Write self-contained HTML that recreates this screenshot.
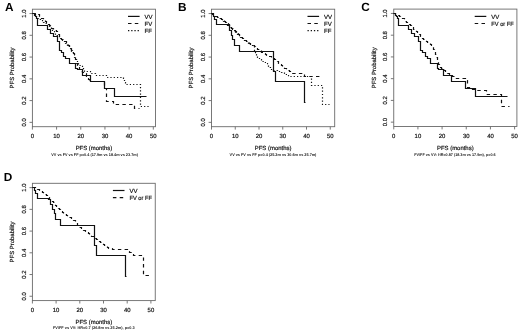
<!DOCTYPE html>
<html><head><meta charset="utf-8"><style>
html,body{margin:0;padding:0;background:#fff;}
svg{display:block;will-change:transform;}
text{text-rendering:geometricPrecision;}
.t{font-family:"Liberation Sans", sans-serif;font-size:5.95px;fill:#111;stroke:#111;stroke-width:0.18px;}
.g{font-family:"Liberation Sans", sans-serif;font-size:6px;fill:#111;stroke:#111;stroke-width:0.18px;}
.f{font-family:"Liberation Sans", sans-serif;font-size:3.9px;fill:#222;font-weight:bold;}
.L{font-family:"Liberation Sans", sans-serif;font-size:11.8px;font-weight:bold;fill:#000;}
</style></head><body>
<svg width="520" height="334" viewBox="0 0 520 334">
<rect width="520" height="334" fill="#fff"/>
<rect x="32.4" y="9.2" width="123.1" height="117.5" fill="none" stroke="#6a6a6a" stroke-width="0.9"/>
<line x1="29.5" y1="122.35" x2="32.4" y2="122.35" stroke="#6a6a6a" stroke-width="0.9"/>
<text x="25.6" y="122.35" transform="rotate(-90 25.6 122.35)" class="t" text-anchor="middle">0.0</text>
<line x1="29.5" y1="100.59" x2="32.4" y2="100.59" stroke="#6a6a6a" stroke-width="0.9"/>
<text x="25.6" y="100.59" transform="rotate(-90 25.6 100.59)" class="t" text-anchor="middle">0.2</text>
<line x1="29.5" y1="78.83" x2="32.4" y2="78.83" stroke="#6a6a6a" stroke-width="0.9"/>
<text x="25.6" y="78.83" transform="rotate(-90 25.6 78.83)" class="t" text-anchor="middle">0.4</text>
<line x1="29.5" y1="57.07" x2="32.4" y2="57.07" stroke="#6a6a6a" stroke-width="0.9"/>
<text x="25.6" y="57.07" transform="rotate(-90 25.6 57.07)" class="t" text-anchor="middle">0.6</text>
<line x1="29.5" y1="35.31" x2="32.4" y2="35.31" stroke="#6a6a6a" stroke-width="0.9"/>
<text x="25.6" y="35.31" transform="rotate(-90 25.6 35.31)" class="t" text-anchor="middle">0.8</text>
<line x1="29.5" y1="13.55" x2="32.4" y2="13.55" stroke="#6a6a6a" stroke-width="0.9"/>
<text x="25.6" y="13.55" transform="rotate(-90 25.6 13.55)" class="t" text-anchor="middle">1.0</text>
<line x1="32.4" y1="126.7" x2="32.4" y2="129.6" stroke="#6a6a6a" stroke-width="0.9"/>
<text x="32.4" y="138" class="t" text-anchor="middle">0</text>
<line x1="56.58" y1="126.7" x2="56.58" y2="129.6" stroke="#6a6a6a" stroke-width="0.9"/>
<text x="56.58" y="138" class="t" text-anchor="middle">10</text>
<line x1="80.76" y1="126.7" x2="80.76" y2="129.6" stroke="#6a6a6a" stroke-width="0.9"/>
<text x="80.76" y="138" class="t" text-anchor="middle">20</text>
<line x1="104.94" y1="126.7" x2="104.94" y2="129.6" stroke="#6a6a6a" stroke-width="0.9"/>
<text x="104.94" y="138" class="t" text-anchor="middle">30</text>
<line x1="129.12" y1="126.7" x2="129.12" y2="129.6" stroke="#6a6a6a" stroke-width="0.9"/>
<text x="129.12" y="138" class="t" text-anchor="middle">40</text>
<line x1="153.3" y1="126.7" x2="153.3" y2="129.6" stroke="#6a6a6a" stroke-width="0.9"/>
<text x="153.3" y="138" class="t" text-anchor="middle">50</text>
<text x="93.95" y="149.8" class="t" text-anchor="middle">PFS (months)</text>
<text x="14.3" y="67.95" transform="rotate(-90 14.3 67.95)" class="t" text-anchor="middle">PFS Probability</text>
<text x="5" y="10.5" class="L">A</text>
<text x="51.3" y="155.8" class="f" textLength="86.6" lengthAdjust="spacingAndGlyphs">VV vs FV vs FF p=0.4 (17.9m vs 18.4m vs 23.7m)</text>
<line x1="128" y1="16.4" x2="139.6" y2="16.4" stroke="#111" stroke-width="1.2" />
<text x="144.6" y="18.5" class="g">VV</text>
<line x1="128" y1="23.5" x2="139.6" y2="23.5" stroke="#111" stroke-width="1.2" stroke-dasharray="3.5 3.3"/>
<text x="144.6" y="25.6" class="g">FV</text>
<line x1="128" y1="30.6" x2="139.6" y2="30.6" stroke="#111" stroke-width="1.2" stroke-dasharray="1.3 1.9"/>
<text x="144.6" y="32.7" class="g">FF</text>
<path d="M32.5 13.5 L33.5 13.5 L33.5 14.5 L34.5 14.5 L35.5 14.5 L35.5 15.5 L35.5 16.5 L36.5 16.5 L36.5 17.5 L37.5 17.5 L37.5 18.5 L38.5 18.5 L38.5 19.5 L39.5 19.5 L40.5 19.5 L40.5 20.5 L41.5 20.5 L42.5 20.5 L42.5 21.5 L43.5 21.5 L43.5 22.5 L44.5 22.5 L45.5 22.5 L45.5 23.5 L46.5 23.5 L47.5 23.5 L47.5 24.5 L48.5 24.5 L48.5 25.5 L49.5 25.5 L49.5 26.5 L50.5 26.5 L50.5 27.5 L51.5 27.5 L51.5 28.5 L52.5 28.5 L52.5 29.5 L52.5 30.5 L53.5 30.5 L53.5 31.5 L54.5 31.5 L54.5 32.5 L55.5 32.5 L55.5 33.5 L55.5 34.5 L56.5 34.5 L56.5 35.5 L57.5 35.5 L58.5 35.5 L58.5 36.5 L59.5 36.5 L59.5 37.5 L60.5 37.5 L60.5 38.5 L61.5 38.5 L61.5 39.5 L62.5 39.5 L62.5 40.5 L63.5 40.5 L63.5 41.5 L64.5 41.5 L64.5 42.5 L65.5 42.5 L65.5 43.5 L66.5 43.5 L66.5 44.5 L67.5 44.5 L67.5 45.5 L68.5 45.5 L68.5 46.5 L69.5 46.5 L69.5 47.5 L69.5 48.5 L70.5 48.5 L70.5 49.5 L70.5 50.5 L71.5 50.5 L71.5 51.5 L72.5 51.5 L72.5 52.5 L73.5 52.5 L73.5 53.5 L73.5 54.5 L74.5 54.5 L74.5 55.5 L74.5 56.5 L74.5 57.5 L75.5 57.5 L75.5 58.5 L75.5 59.5 L76.5 59.5 L76.5 60.5 L76.5 61.5 L77.5 61.5 L77.5 62.5 L77.5 63.5 L78.5 63.5 L78.5 64.5 L79.5 64.5 L79.5 65.5 L80.5 65.5 L81.5 65.5 L82.5 65.5 L82.5 66.5 L82.5 67.5 L83.5 67.5 L83.5 68.5 L83.5 69.5 L84.5 69.5 L84.5 70.5 L84.5 71.5 L90.5 71.5 L90.5 73.5 L95.5 73.5 L95.5 75.5 L106.5 75.5 L106.5 77.5 L107.5 77.5 L108.5 77.5 L109.5 77.5 L110.5 77.5 L111.5 77.5 L112.5 77.5 L113.5 77.5 L114.5 77.5 L115.5 77.5 L116.5 77.5 L117.5 77.5 L118.5 77.5 L119.5 77.5 L120.5 77.5 L121.5 77.5 L122.5 77.5 L123.5 77.5 L123.5 78.5 L124.5 78.5 L124.5 79.5 L124.5 80.5 L124.5 81.5 L124.5 82.5 L125.5 82.5 L125.5 83.5 L125.5 84.5 L140.5 84.5 L140.5 106.5 L150.5 106.5" fill="none" stroke="#111" stroke-width="1.2" stroke-dasharray="1.2 2.1"/>
<path d="M32.5 13.5 L33.5 13.5 L34.5 13.5 L35.5 13.5 L36.5 13.5 L36.5 14.5 L37.5 14.5 L38.5 14.5 L39.5 14.5 L39.5 15.5 L39.5 16.5 L40.5 16.5 L40.5 17.5 L41.5 17.5 L41.5 18.5 L42.5 18.5 L43.5 18.5 L43.5 19.5 L44.5 19.5 L44.5 20.5 L45.5 20.5 L45.5 21.5 L46.5 21.5 L46.5 22.5 L47.5 22.5 L47.5 23.5 L48.5 23.5 L48.5 24.5 L49.5 24.5 L49.5 25.5 L50.5 25.5 L50.5 26.5 L51.5 26.5 L51.5 27.5 L51.5 28.5 L52.5 28.5 L53.5 28.5 L53.5 29.5 L54.5 29.5 L55.5 29.5 L55.5 30.5 L56.5 30.5 L56.5 31.5 L57.5 31.5 L57.5 32.5 L57.5 33.5 L58.5 33.5 L58.5 34.5 L59.5 34.5 L59.5 35.5 L59.5 36.5 L60.5 36.5 L60.5 37.5 L60.5 38.5 L61.5 38.5 L61.5 39.5 L62.5 39.5 L63.5 39.5 L63.5 40.5 L64.5 40.5 L64.5 41.5 L65.5 41.5 L66.5 41.5 L66.5 42.5 L66.5 43.5 L67.5 43.5 L67.5 44.5 L68.5 44.5 L68.5 45.5 L69.5 45.5 L69.5 46.5 L70.5 46.5 L70.5 47.5 L70.5 48.5 L71.5 48.5 L71.5 49.5 L71.5 50.5 L72.5 50.5 L72.5 51.5 L73.5 51.5 L73.5 52.5 L73.5 53.5 L74.5 53.5 L74.5 54.5 L74.5 55.5 L75.5 55.5 L75.5 56.5 L75.5 57.5 L75.5 58.5 L75.5 59.5 L76.5 59.5 L76.5 60.5 L76.5 61.5 L76.5 62.5 L76.5 63.5 L77.5 63.5 L77.5 64.5 L77.5 65.5 L78.5 65.5 L78.5 66.5 L78.5 67.5 L79.5 67.5 L79.5 68.5 L79.5 69.5 L80.5 69.5 L80.5 70.5 L80.5 71.5 L81.5 71.5 L82.5 71.5 L82.5 72.5 L83.5 72.5 L84.5 72.5 L84.5 73.5 L85.5 73.5 L86.5 73.5 L86.5 74.5 L86.5 75.5 L86.5 76.5 L87.5 76.5 L87.5 77.5 L87.5 78.5 L88.5 78.5 L88.5 79.5 L89.5 79.5 L89.5 80.5 L90.5 80.5 L90.5 81.5 L104.5 81.5 L104.5 88.5 L106.5 88.5 L106.5 101.5 L113.5 101.5 L113.5 104.5 L134.5 104.5 L134.5 108.5 L139.5 108.5" fill="none" stroke="#111" stroke-width="1.2" stroke-dasharray="3.4 3.3"/>
<path d="M32.5 13.5 L34.5 13.5 L34.5 15.5 L35.5 15.5 L35.5 16.5 L36.5 16.5 L36.5 18.5 L37.5 18.5 L37.5 25.5 L47.5 25.5 L47.5 29.5 L50.5 29.5 L50.5 33.5 L53.5 33.5 L53.5 36.5 L57.5 36.5 L57.5 41.5 L59.5 41.5 L59.5 50.5 L61.5 50.5 L61.5 52.5 L63.5 52.5 L63.5 56.5 L65.5 56.5 L65.5 58.5 L69.5 58.5 L69.5 63.5 L75.5 63.5 L75.5 68.5 L77.5 68.5 L77.5 69.5 L82.5 69.5 L82.5 75.5 L90.5 75.5 L90.5 81.5 L104.5 81.5 L104.5 88.5 L114.5 88.5 L114.5 96.5 L146.5 96.5" fill="none" stroke="#111" stroke-width="1.2" />
<rect x="211.5" y="9.2" width="123.2" height="117.5" fill="none" stroke="#6a6a6a" stroke-width="0.9"/>
<line x1="208.6" y1="122.35" x2="211.5" y2="122.35" stroke="#6a6a6a" stroke-width="0.9"/>
<text x="204.7" y="122.35" transform="rotate(-90 204.7 122.35)" class="t" text-anchor="middle">0.0</text>
<line x1="208.6" y1="100.59" x2="211.5" y2="100.59" stroke="#6a6a6a" stroke-width="0.9"/>
<text x="204.7" y="100.59" transform="rotate(-90 204.7 100.59)" class="t" text-anchor="middle">0.2</text>
<line x1="208.6" y1="78.83" x2="211.5" y2="78.83" stroke="#6a6a6a" stroke-width="0.9"/>
<text x="204.7" y="78.83" transform="rotate(-90 204.7 78.83)" class="t" text-anchor="middle">0.4</text>
<line x1="208.6" y1="57.07" x2="211.5" y2="57.07" stroke="#6a6a6a" stroke-width="0.9"/>
<text x="204.7" y="57.07" transform="rotate(-90 204.7 57.07)" class="t" text-anchor="middle">0.6</text>
<line x1="208.6" y1="35.31" x2="211.5" y2="35.31" stroke="#6a6a6a" stroke-width="0.9"/>
<text x="204.7" y="35.31" transform="rotate(-90 204.7 35.31)" class="t" text-anchor="middle">0.8</text>
<line x1="208.6" y1="13.55" x2="211.5" y2="13.55" stroke="#6a6a6a" stroke-width="0.9"/>
<text x="204.7" y="13.55" transform="rotate(-90 204.7 13.55)" class="t" text-anchor="middle">1.0</text>
<line x1="211.5" y1="126.7" x2="211.5" y2="129.6" stroke="#6a6a6a" stroke-width="0.9"/>
<text x="211.5" y="138" class="t" text-anchor="middle">0</text>
<line x1="235.25" y1="126.7" x2="235.25" y2="129.6" stroke="#6a6a6a" stroke-width="0.9"/>
<text x="235.25" y="138" class="t" text-anchor="middle">10</text>
<line x1="259" y1="126.7" x2="259" y2="129.6" stroke="#6a6a6a" stroke-width="0.9"/>
<text x="259" y="138" class="t" text-anchor="middle">20</text>
<line x1="282.75" y1="126.7" x2="282.75" y2="129.6" stroke="#6a6a6a" stroke-width="0.9"/>
<text x="282.75" y="138" class="t" text-anchor="middle">30</text>
<line x1="306.5" y1="126.7" x2="306.5" y2="129.6" stroke="#6a6a6a" stroke-width="0.9"/>
<text x="306.5" y="138" class="t" text-anchor="middle">40</text>
<line x1="330.25" y1="126.7" x2="330.25" y2="129.6" stroke="#6a6a6a" stroke-width="0.9"/>
<text x="330.25" y="138" class="t" text-anchor="middle">50</text>
<text x="273.1" y="149.8" class="t" text-anchor="middle">PFS (months)</text>
<text x="193.4" y="67.95" transform="rotate(-90 193.4 67.95)" class="t" text-anchor="middle">PFS Probability</text>
<text x="178" y="10.9" class="L">B</text>
<text x="229.6" y="155.6" class="f" textLength="86.8" lengthAdjust="spacingAndGlyphs">VV vs FV vs FF p=0.4 (25.2m vs 30.6m vs 25.7m)</text>
<line x1="307.5" y1="16.4" x2="319.1" y2="16.4" stroke="#111" stroke-width="1.2" />
<text x="324.1" y="18.5" class="g">VV</text>
<line x1="307.5" y1="23.5" x2="319.1" y2="23.5" stroke="#111" stroke-width="1.2" stroke-dasharray="3.5 3.3"/>
<text x="324.1" y="25.6" class="g">FV</text>
<line x1="307.5" y1="30.6" x2="319.1" y2="30.6" stroke="#111" stroke-width="1.2" stroke-dasharray="1.3 1.9"/>
<text x="324.1" y="32.7" class="g">FF</text>
<path d="M211.5 13.5 L212.5 13.5 L212.5 14.5 L213.5 14.5 L213.5 15.5 L214.5 15.5 L215.5 15.5 L215.5 16.5 L216.5 16.5 L217.5 16.5 L217.5 17.5 L218.5 17.5 L219.5 17.5 L219.5 18.5 L220.5 18.5 L220.5 19.5 L221.5 19.5 L222.5 19.5 L222.5 20.5 L223.5 20.5 L223.5 21.5 L224.5 21.5 L224.5 22.5 L225.5 22.5 L226.5 22.5 L226.5 23.5 L227.5 23.5 L227.5 24.5 L228.5 24.5 L228.5 25.5 L229.5 25.5 L229.5 26.5 L230.5 26.5 L230.5 27.5 L231.5 27.5 L231.5 28.5 L232.5 28.5 L232.5 29.5 L233.5 29.5 L233.5 30.5 L234.5 30.5 L234.5 31.5 L235.5 31.5 L235.5 32.5 L236.5 32.5 L236.5 33.5 L237.5 33.5 L237.5 34.5 L238.5 34.5 L238.5 35.5 L239.5 35.5 L239.5 36.5 L240.5 36.5 L240.5 37.5 L241.5 37.5 L242.5 37.5 L242.5 38.5 L243.5 38.5 L243.5 39.5 L244.5 39.5 L244.5 40.5 L245.5 40.5 L245.5 41.5 L246.5 41.5 L247.5 41.5 L247.5 42.5 L248.5 42.5 L248.5 43.5 L249.5 43.5 L250.5 43.5 L250.5 44.5 L251.5 44.5 L252.5 44.5 L252.5 45.5 L253.5 45.5 L254.5 45.5 L254.5 46.5 L254.5 47.5 L254.5 48.5 L254.5 49.5 L254.5 50.5 L254.5 51.5 L254.5 52.5 L255.5 52.5 L255.5 53.5 L255.5 54.5 L256.5 54.5 L256.5 55.5 L257.5 55.5 L257.5 56.5 L257.5 57.5 L258.5 57.5 L258.5 58.5 L259.5 58.5 L260.5 58.5 L260.5 59.5 L261.5 59.5 L261.5 60.5 L262.5 60.5 L262.5 61.5 L263.5 61.5 L264.5 61.5 L264.5 62.5 L265.5 62.5 L266.5 62.5 L266.5 63.5 L267.5 63.5 L267.5 64.5 L268.5 64.5 L268.5 65.5 L268.5 66.5 L269.5 66.5 L269.5 67.5 L270.5 67.5 L270.5 68.5 L271.5 68.5 L271.5 69.5 L272.5 69.5 L273.5 69.5 L273.5 70.5 L274.5 70.5 L275.5 70.5 L276.5 70.5 L277.5 70.5 L277.5 71.5 L278.5 71.5 L279.5 71.5 L280.5 71.5 L281.5 71.5 L281.5 72.5 L282.5 72.5 L283.5 72.5 L284.5 72.5 L284.5 73.5 L285.5 73.5 L285.5 74.5 L286.5 74.5 L287.5 74.5 L287.5 75.5 L288.5 75.5 L288.5 76.5 L289.5 76.5 L311.5 76.5 L311.5 85.5 L322.5 85.5 L322.5 104.5 L329.5 104.5" fill="none" stroke="#111" stroke-width="1.2" stroke-dasharray="1.2 2.1"/>
<path d="M211.5 13.5 L212.5 13.5 L212.5 14.5 L213.5 14.5 L214.5 14.5 L214.5 15.5 L215.5 15.5 L215.5 16.5 L216.5 16.5 L217.5 16.5 L217.5 17.5 L218.5 17.5 L219.5 17.5 L219.5 18.5 L220.5 18.5 L221.5 18.5 L221.5 19.5 L222.5 19.5 L223.5 19.5 L223.5 20.5 L224.5 20.5 L224.5 21.5 L225.5 21.5 L225.5 22.5 L226.5 22.5 L227.5 22.5 L227.5 23.5 L228.5 23.5 L228.5 24.5 L229.5 24.5 L229.5 25.5 L230.5 25.5 L230.5 26.5 L231.5 26.5 L231.5 27.5 L231.5 28.5 L232.5 28.5 L233.5 28.5 L233.5 29.5 L234.5 29.5 L234.5 30.5 L235.5 30.5 L235.5 31.5 L236.5 31.5 L236.5 32.5 L237.5 32.5 L237.5 33.5 L238.5 33.5 L238.5 34.5 L239.5 34.5 L239.5 35.5 L240.5 35.5 L240.5 36.5 L241.5 36.5 L241.5 37.5 L242.5 37.5 L242.5 38.5 L243.5 38.5 L243.5 39.5 L244.5 39.5 L244.5 40.5 L245.5 40.5 L246.5 40.5 L246.5 41.5 L247.5 41.5 L247.5 42.5 L248.5 42.5 L249.5 42.5 L249.5 43.5 L250.5 43.5 L250.5 44.5 L251.5 44.5 L252.5 44.5 L252.5 45.5 L253.5 45.5 L254.5 45.5 L254.5 46.5 L255.5 46.5 L255.5 47.5 L256.5 47.5 L256.5 48.5 L257.5 48.5 L257.5 49.5 L258.5 49.5 L259.5 49.5 L259.5 50.5 L260.5 50.5 L261.5 50.5 L261.5 51.5 L261.5 52.5 L262.5 52.5 L263.5 52.5 L263.5 53.5 L264.5 53.5 L265.5 53.5 L265.5 54.5 L266.5 54.5 L266.5 55.5 L267.5 55.5 L268.5 55.5 L268.5 56.5 L269.5 56.5 L270.5 56.5 L271.5 56.5 L271.5 57.5 L272.5 57.5 L273.5 57.5 L273.5 58.5 L274.5 58.5 L274.5 59.5 L275.5 59.5 L275.5 60.5 L276.5 60.5 L277.5 60.5 L277.5 61.5 L278.5 61.5 L278.5 62.5 L278.5 63.5 L279.5 63.5 L280.5 63.5 L280.5 64.5 L281.5 64.5 L281.5 65.5 L282.5 65.5 L282.5 66.5 L283.5 66.5 L283.5 67.5 L284.5 67.5 L284.5 68.5 L285.5 68.5 L286.5 68.5 L286.5 69.5 L287.5 69.5 L288.5 69.5 L288.5 70.5 L289.5 70.5 L289.5 71.5 L290.5 71.5 L290.5 72.5 L291.5 72.5 L291.5 73.5 L292.5 73.5 L304.5 73.5 L304.5 76.5 L322.5 76.5" fill="none" stroke="#111" stroke-width="1.2" stroke-dasharray="3.4 3.3"/>
<path d="M211.5 13.5 L213.5 13.5 L213.5 16.5 L214.5 16.5 L214.5 19.5 L216.5 19.5 L216.5 24.5 L227.5 24.5 L227.5 25.5 L229.5 25.5 L229.5 30.5 L231.5 30.5 L231.5 35.5 L232.5 35.5 L232.5 39.5 L234.5 39.5 L234.5 45.5 L239.5 45.5 L239.5 51.5 L273.5 51.5 L273.5 71.5 L275.5 71.5 L275.5 81.5 L304.5 81.5 L304.5 102.5 L305.5 102.5" fill="none" stroke="#111" stroke-width="1.2" />
<rect x="393.75" y="9.1" width="123.15" height="117.4" fill="none" stroke="#6a6a6a" stroke-width="0.9"/>
<line x1="390.85" y1="122.15" x2="393.75" y2="122.15" stroke="#6a6a6a" stroke-width="0.9"/>
<text x="386.95" y="122.15" transform="rotate(-90 386.95 122.15)" class="t" text-anchor="middle">0.0</text>
<line x1="390.85" y1="100.41" x2="393.75" y2="100.41" stroke="#6a6a6a" stroke-width="0.9"/>
<text x="386.95" y="100.41" transform="rotate(-90 386.95 100.41)" class="t" text-anchor="middle">0.2</text>
<line x1="390.85" y1="78.67" x2="393.75" y2="78.67" stroke="#6a6a6a" stroke-width="0.9"/>
<text x="386.95" y="78.67" transform="rotate(-90 386.95 78.67)" class="t" text-anchor="middle">0.4</text>
<line x1="390.85" y1="56.93" x2="393.75" y2="56.93" stroke="#6a6a6a" stroke-width="0.9"/>
<text x="386.95" y="56.93" transform="rotate(-90 386.95 56.93)" class="t" text-anchor="middle">0.6</text>
<line x1="390.85" y1="35.19" x2="393.75" y2="35.19" stroke="#6a6a6a" stroke-width="0.9"/>
<text x="386.95" y="35.19" transform="rotate(-90 386.95 35.19)" class="t" text-anchor="middle">0.8</text>
<line x1="390.85" y1="13.45" x2="393.75" y2="13.45" stroke="#6a6a6a" stroke-width="0.9"/>
<text x="386.95" y="13.45" transform="rotate(-90 386.95 13.45)" class="t" text-anchor="middle">1.0</text>
<line x1="393.75" y1="126.5" x2="393.75" y2="129.4" stroke="#6a6a6a" stroke-width="0.9"/>
<text x="393.75" y="137.8" class="t" text-anchor="middle">0</text>
<line x1="417.92" y1="126.5" x2="417.92" y2="129.4" stroke="#6a6a6a" stroke-width="0.9"/>
<text x="417.92" y="137.8" class="t" text-anchor="middle">10</text>
<line x1="442.09" y1="126.5" x2="442.09" y2="129.4" stroke="#6a6a6a" stroke-width="0.9"/>
<text x="442.09" y="137.8" class="t" text-anchor="middle">20</text>
<line x1="466.26" y1="126.5" x2="466.26" y2="129.4" stroke="#6a6a6a" stroke-width="0.9"/>
<text x="466.26" y="137.8" class="t" text-anchor="middle">30</text>
<line x1="490.43" y1="126.5" x2="490.43" y2="129.4" stroke="#6a6a6a" stroke-width="0.9"/>
<text x="490.43" y="137.8" class="t" text-anchor="middle">40</text>
<line x1="514.6" y1="126.5" x2="514.6" y2="129.4" stroke="#6a6a6a" stroke-width="0.9"/>
<text x="514.6" y="137.8" class="t" text-anchor="middle">50</text>
<text x="455.32" y="149.6" class="t" text-anchor="middle">PFS (months)</text>
<text x="375.65" y="67.8" transform="rotate(-90 375.65 67.8)" class="t" text-anchor="middle">PFS Probability</text>
<text x="361.3" y="11.2" class="L">C</text>
<text x="414.3" y="155.6" class="f" textLength="81.3" lengthAdjust="spacingAndGlyphs">FV/FF vs VV: HR=0.87 (18.3m vs 17.9m), p=0.6</text>
<line x1="474.7" y1="16.4" x2="486.3" y2="16.4" stroke="#111" stroke-width="1.2" />
<text x="491.3" y="18.5" class="g">VV</text>
<line x1="474.7" y1="23.5" x2="486.3" y2="23.5" stroke="#111" stroke-width="1.2" stroke-dasharray="3.5 3.3"/>
<text x="491.3" y="25.6" class="g" textLength="22.4" lengthAdjust="spacingAndGlyphs">FV or FF</text>
<path d="M393.5 13.5 L394.5 13.5 L395.5 13.5 L395.5 14.5 L396.5 14.5 L397.5 14.5 L397.5 15.5 L398.5 15.5 L399.5 15.5 L399.5 16.5 L400.5 16.5 L400.5 17.5 L401.5 17.5 L402.5 17.5 L402.5 18.5 L403.5 18.5 L404.5 18.5 L404.5 19.5 L404.5 20.5 L405.5 20.5 L405.5 21.5 L406.5 21.5 L406.5 22.5 L407.5 22.5 L407.5 23.5 L408.5 23.5 L409.5 23.5 L409.5 24.5 L410.5 24.5 L410.5 25.5 L411.5 25.5 L411.5 26.5 L412.5 26.5 L412.5 27.5 L413.5 27.5 L413.5 28.5 L413.5 29.5 L414.5 29.5 L415.5 29.5 L415.5 30.5 L416.5 30.5 L416.5 31.5 L417.5 31.5 L417.5 32.5 L418.5 32.5 L418.5 33.5 L419.5 33.5 L419.5 34.5 L420.5 34.5 L420.5 35.5 L420.5 36.5 L421.5 36.5 L421.5 37.5 L422.5 37.5 L422.5 38.5 L423.5 38.5 L423.5 39.5 L424.5 39.5 L424.5 40.5 L425.5 40.5 L426.5 40.5 L426.5 41.5 L427.5 41.5 L427.5 42.5 L428.5 42.5 L429.5 42.5 L429.5 43.5 L430.5 43.5 L430.5 44.5 L431.5 44.5 L431.5 45.5 L432.5 45.5 L432.5 46.5 L433.5 46.5 L433.5 47.5 L433.5 48.5 L433.5 49.5 L434.5 49.5 L434.5 50.5 L434.5 51.5 L435.5 51.5 L435.5 52.5 L435.5 53.5 L435.5 54.5 L436.5 54.5 L436.5 55.5 L436.5 56.5 L436.5 57.5 L437.5 57.5 L437.5 58.5 L437.5 59.5 L437.5 60.5 L437.5 61.5 L438.5 61.5 L438.5 62.5 L438.5 63.5 L438.5 64.5 L439.5 64.5 L439.5 65.5 L439.5 66.5 L440.5 66.5 L440.5 67.5 L441.5 67.5 L441.5 68.5 L442.5 68.5 L443.5 68.5 L443.5 69.5 L444.5 69.5 L444.5 70.5 L445.5 70.5 L445.5 71.5 L446.5 71.5 L446.5 72.5 L447.5 72.5 L447.5 73.5 L448.5 73.5 L449.5 73.5 L449.5 74.5 L450.5 74.5 L450.5 75.5 L451.5 75.5 L452.5 75.5 L452.5 76.5 L453.5 76.5 L454.5 76.5 L454.5 77.5 L455.5 77.5 L455.5 78.5 L465.5 78.5 L465.5 80.5 L467.5 80.5 L467.5 86.5 L467.5 87.5 L468.5 87.5 L469.5 87.5 L469.5 88.5 L470.5 88.5 L471.5 88.5 L472.5 88.5 L472.5 89.5 L473.5 89.5 L474.5 89.5 L475.5 89.5 L475.5 90.5 L476.5 90.5 L477.5 90.5 L486.5 90.5 L486.5 94.5 L501.5 94.5 L501.5 106.5 L509.5 106.5" fill="none" stroke="#111" stroke-width="1.2" stroke-dasharray="3.4 3.3"/>
<path d="M393.5 13.5 L395.5 13.5 L395.5 15.5 L396.5 15.5 L396.5 16.5 L397.5 16.5 L397.5 18.5 L398.5 18.5 L398.5 25.5 L408.5 25.5 L408.5 29.5 L411.5 29.5 L411.5 33.5 L414.5 33.5 L414.5 36.5 L418.5 36.5 L418.5 41.5 L420.5 41.5 L420.5 50.5 L422.5 50.5 L422.5 52.5 L425.5 52.5 L425.5 56.5 L427.5 56.5 L427.5 58.5 L430.5 58.5 L430.5 63.5 L437.5 63.5 L437.5 68.5 L438.5 68.5 L438.5 69.5 L443.5 69.5 L443.5 75.5 L451.5 75.5 L451.5 81.5 L465.5 81.5 L465.5 88.5 L475.5 88.5 L475.5 96.5 L507.5 96.5" fill="none" stroke="#111" stroke-width="1.2" />
<rect x="32.4" y="183.3" width="122.85" height="117.3" fill="none" stroke="#6a6a6a" stroke-width="0.9"/>
<line x1="29.5" y1="296.26" x2="32.4" y2="296.26" stroke="#6a6a6a" stroke-width="0.9"/>
<text x="25.6" y="296.26" transform="rotate(-90 25.6 296.26)" class="t" text-anchor="middle">0.0</text>
<line x1="29.5" y1="274.53" x2="32.4" y2="274.53" stroke="#6a6a6a" stroke-width="0.9"/>
<text x="25.6" y="274.53" transform="rotate(-90 25.6 274.53)" class="t" text-anchor="middle">0.2</text>
<line x1="29.5" y1="252.81" x2="32.4" y2="252.81" stroke="#6a6a6a" stroke-width="0.9"/>
<text x="25.6" y="252.81" transform="rotate(-90 25.6 252.81)" class="t" text-anchor="middle">0.4</text>
<line x1="29.5" y1="231.09" x2="32.4" y2="231.09" stroke="#6a6a6a" stroke-width="0.9"/>
<text x="25.6" y="231.09" transform="rotate(-90 25.6 231.09)" class="t" text-anchor="middle">0.6</text>
<line x1="29.5" y1="209.37" x2="32.4" y2="209.37" stroke="#6a6a6a" stroke-width="0.9"/>
<text x="25.6" y="209.37" transform="rotate(-90 25.6 209.37)" class="t" text-anchor="middle">0.8</text>
<line x1="29.5" y1="187.64" x2="32.4" y2="187.64" stroke="#6a6a6a" stroke-width="0.9"/>
<text x="25.6" y="187.64" transform="rotate(-90 25.6 187.64)" class="t" text-anchor="middle">1.0</text>
<line x1="32.4" y1="300.6" x2="32.4" y2="303.5" stroke="#6a6a6a" stroke-width="0.9"/>
<text x="32.4" y="311.9" class="t" text-anchor="middle">0</text>
<line x1="56.1" y1="300.6" x2="56.1" y2="303.5" stroke="#6a6a6a" stroke-width="0.9"/>
<text x="56.1" y="311.9" class="t" text-anchor="middle">10</text>
<line x1="79.8" y1="300.6" x2="79.8" y2="303.5" stroke="#6a6a6a" stroke-width="0.9"/>
<text x="79.8" y="311.9" class="t" text-anchor="middle">20</text>
<line x1="103.5" y1="300.6" x2="103.5" y2="303.5" stroke="#6a6a6a" stroke-width="0.9"/>
<text x="103.5" y="311.9" class="t" text-anchor="middle">30</text>
<line x1="127.2" y1="300.6" x2="127.2" y2="303.5" stroke="#6a6a6a" stroke-width="0.9"/>
<text x="127.2" y="311.9" class="t" text-anchor="middle">40</text>
<line x1="150.9" y1="300.6" x2="150.9" y2="303.5" stroke="#6a6a6a" stroke-width="0.9"/>
<text x="150.9" y="311.9" class="t" text-anchor="middle">50</text>
<text x="93.83" y="323.7" class="t" text-anchor="middle">PFS (months)</text>
<text x="14.3" y="241.95" transform="rotate(-90 14.3 241.95)" class="t" text-anchor="middle">PFS Probability</text>
<text x="3.8" y="180.8" class="L">D</text>
<text x="53" y="329.4" class="f" textLength="81.7" lengthAdjust="spacingAndGlyphs">FV/FF vs VV: HR=0.7 (26.8m vs 25.2m), p=0.3</text>
<line x1="112.9" y1="190.5" x2="124.5" y2="190.5" stroke="#111" stroke-width="1.2" />
<text x="129.5" y="192.6" class="g">VV</text>
<line x1="112.9" y1="197.6" x2="124.5" y2="197.6" stroke="#111" stroke-width="1.2" stroke-dasharray="3.5 3.3"/>
<text x="129.5" y="199.7" class="g" textLength="22.4" lengthAdjust="spacingAndGlyphs">FV or FF</text>
<path d="M32.5 187.5 L33.5 187.5 L34.5 187.5 L35.5 187.5 L35.5 188.5 L36.5 188.5 L37.5 188.5 L37.5 189.5 L38.5 189.5 L39.5 189.5 L39.5 190.5 L40.5 190.5 L41.5 190.5 L42.5 190.5 L42.5 191.5 L42.5 192.5 L43.5 192.5 L43.5 193.5 L44.5 193.5 L45.5 193.5 L45.5 194.5 L46.5 194.5 L46.5 195.5 L47.5 195.5 L47.5 196.5 L48.5 196.5 L48.5 197.5 L49.5 197.5 L49.5 198.5 L49.5 199.5 L50.5 199.5 L51.5 199.5 L51.5 200.5 L52.5 200.5 L52.5 201.5 L53.5 201.5 L53.5 202.5 L54.5 202.5 L54.5 203.5 L54.5 204.5 L55.5 204.5 L55.5 205.5 L56.5 205.5 L56.5 206.5 L57.5 206.5 L57.5 207.5 L58.5 207.5 L58.5 208.5 L59.5 208.5 L59.5 209.5 L60.5 209.5 L60.5 210.5 L61.5 210.5 L61.5 211.5 L62.5 211.5 L62.5 212.5 L63.5 212.5 L63.5 213.5 L64.5 213.5 L65.5 213.5 L65.5 214.5 L66.5 214.5 L66.5 215.5 L67.5 215.5 L67.5 216.5 L68.5 216.5 L69.5 216.5 L69.5 217.5 L70.5 217.5 L71.5 217.5 L71.5 218.5 L72.5 218.5 L72.5 219.5 L73.5 219.5 L73.5 220.5 L74.5 220.5 L75.5 220.5 L75.5 221.5 L75.5 222.5 L76.5 222.5 L76.5 223.5 L77.5 223.5 L77.5 224.5 L77.5 225.5 L78.5 225.5 L78.5 226.5 L79.5 226.5 L79.5 227.5 L80.5 227.5 L81.5 227.5 L81.5 228.5 L82.5 228.5 L82.5 229.5 L83.5 229.5 L83.5 230.5 L84.5 230.5 L85.5 230.5 L85.5 231.5 L86.5 231.5 L86.5 232.5 L87.5 232.5 L88.5 232.5 L88.5 233.5 L89.5 233.5 L89.5 234.5 L90.5 234.5 L90.5 235.5 L91.5 235.5 L91.5 236.5 L92.5 236.5 L93.5 236.5 L93.5 237.5 L94.5 237.5 L95.5 237.5 L95.5 238.5 L96.5 238.5 L96.5 239.5 L97.5 239.5 L97.5 240.5 L98.5 240.5 L99.5 240.5 L99.5 241.5 L100.5 241.5 L100.5 242.5 L101.5 242.5 L101.5 243.5 L102.5 243.5 L103.5 243.5 L103.5 244.5 L104.5 244.5 L104.5 245.5 L105.5 245.5 L106.5 245.5 L106.5 246.5 L107.5 246.5 L107.5 247.5 L108.5 247.5 L108.5 248.5 L109.5 248.5 L110.5 248.5 L111.5 248.5 L112.5 248.5 L112.5 249.5 L113.5 249.5 L127.5 249.5 L127.5 251.5 L128.5 251.5 L129.5 251.5 L129.5 252.5 L130.5 252.5 L131.5 252.5 L132.5 252.5 L132.5 253.5 L132.5 254.5 L133.5 254.5 L133.5 255.5 L143.5 255.5 L143.5 275.5 L151.5 275.5" fill="none" stroke="#111" stroke-width="1.2" stroke-dasharray="3.4 3.3"/>
<path d="M32.5 187.5 L34.5 187.5 L34.5 190.5 L35.5 190.5 L35.5 193.5 L37.5 193.5 L37.5 198.5 L48.5 198.5 L48.5 199.5 L50.5 199.5 L50.5 204.5 L52.5 204.5 L52.5 209.5 L54.5 209.5 L54.5 213.5 L55.5 213.5 L55.5 219.5 L60.5 219.5 L60.5 225.5 L94.5 225.5 L94.5 245.5 L96.5 245.5 L96.5 255.5 L125.5 255.5 L125.5 276.5 L126.5 276.5" fill="none" stroke="#111" stroke-width="1.2" />
</svg>
</body></html>
